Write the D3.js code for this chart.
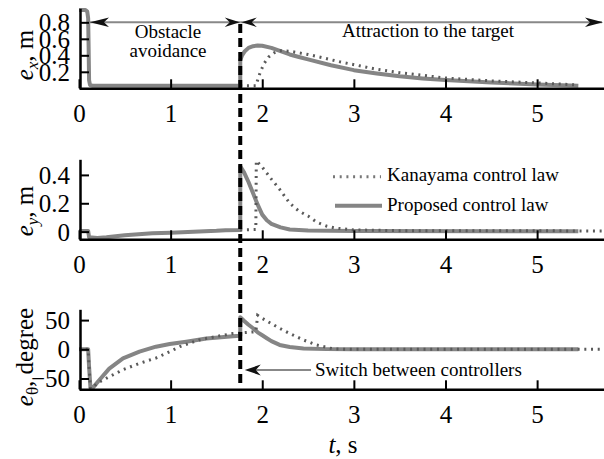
<!DOCTYPE html>
<html>
<head>
<meta charset="utf-8">
<script src="https://cdn.jsdelivr.net/npm/d3@7"></script>
<style>
  html, body { margin: 0; padding: 0; background: #fff; }
  svg, svg text { font-family: "Liberation Serif", "DejaVu Serif", "Times New Roman", Times, serif !important; }
  svg { display: block; }
</style>
</head>
<body>
<svg id="chart" width="604" height="459"></svg>
<script>
// ---- time axis ----
const timeTicks = [0, 1, 2, 3, 4, 5];
const tSwitch = 1.76;   // moment the controller is switched
const tEnd = 5.73;

// ---- e_x, m ----
const exTicks = [0.2, 0.4, 0.6, 0.8];
const exProposed = [
  [0, 0.95], [0.07, 0.95], [0.09, 0.93], [0.1, 0.85], [0.105, 0.5], [0.11, 0.1], [0.12, 0.04],
  [0.15, 0.03], [1.76, 0.03], [1.76, 0.34], [1.78, 0.40], [1.81, 0.45], [1.85, 0.49], [1.9, 0.51],
  [1.95, 0.52], [2.0, 0.515], [2.1, 0.49], [2.2, 0.45], [2.3, 0.41], [2.4, 0.38], [2.5, 0.35],
  [2.75, 0.28], [3.0, 0.22], [3.25, 0.18], [3.5, 0.145], [3.75, 0.12], [4.0, 0.10], [4.5, 0.07],
  [5.0, 0.045], [5.45, 0.03]
];
const exKanayama = [
  [1.76, 0.03], [1.93, 0.03], [1.95, 0.1], [1.98, 0.2], [2.02, 0.3], [2.07, 0.38], [2.13, 0.43],
  [2.2, 0.455], [2.3, 0.45], [2.4, 0.43], [2.5, 0.41], [2.66, 0.37], [2.85, 0.32], [3.03, 0.28],
  [3.25, 0.23], [3.5, 0.19], [4.0, 0.125], [4.5, 0.09], [5.0, 0.065], [5.45, 0.04]
];

// ---- e_y, m ----
const eyTicks = [0, 0.2, 0.4];
const eyProposed = [
  [0, 0.005], [0.1, 0.005], [0.11, -0.04], [0.2, -0.045], [0.3, -0.04], [0.4, -0.032], [0.5, -0.025],
  [0.65, -0.018], [0.8, -0.012], [1.0, -0.008], [1.25, 0.0], [1.5, 0.006], [1.6, 0.01], [1.76, 0.012],
  [1.76, 0.46], [1.8, 0.42], [1.85, 0.35], [1.9, 0.27], [1.95, 0.19], [2.0, 0.12], [2.05, 0.08],
  [2.1, 0.055], [2.2, 0.03], [2.3, 0.015], [2.5, 0.008], [3.0, 0.005], [5.45, 0.003]
];
const eyKanayama = [
  [1.76, 0.012], [1.93, 0.015], [1.935, 0.5], [2.0, 0.455], [2.1, 0.37], [2.2, 0.29], [2.3, 0.2],
  [2.4, 0.145], [2.5, 0.11], [2.6, 0.065], [2.7, 0.04], [2.8, 0.025], [3.0, 0.012], [3.5, 0.007],
  [5.73, 0.005]
];

// ---- e_theta, degree ----
const ethTicks = [-50, 0, 50];
const ethProposed = [
  [0, 0], [0.1, 0], [0.11, -30], [0.125, -66], [0.15, -66], [0.22, -53], [0.33, -33], [0.48, -15.5],
  [0.66, -4], [0.84, 4.5], [0.99, 9], [1.17, 13], [1.39, 18.5], [1.68, 22.5], [1.76, 23],
  [1.76, 55], [1.8, 49], [1.85, 42], [1.9, 36], [1.95, 29], [2.0, 24], [2.05, 19], [2.1, 14],
  [2.19, 7.5], [2.3, 4], [2.45, 1.5], [2.7, 0.3], [3.0, 0], [5.45, 0]
];
const ethKanayama = [
  [0, 0], [0.1, 0], [0.11, -30], [0.125, -67], [0.15, -66], [0.2, -58], [0.33, -47], [0.48, -35],
  [0.66, -24], [0.84, -15], [0.99, -4], [1.1, 4.5], [1.31, 16], [1.5, 22], [1.68, 27], [1.76, 28],
  [1.93, 30], [1.95, 58], [2.0, 53], [2.1, 44], [2.19, 36], [2.3, 27], [2.45, 16], [2.59, 7.5],
  [2.78, 0.5], [3.0, 0], [5.73, 0]
];

// ---- texts ----
const legendLabels = ["Kanayama control law", "Proposed control law"];
const phaseLabels = [["Obstacle", "avoidance"], ["Attraction to the target"]];
const switchLabel = "Switch between controllers";

// ---- styles ----
const serif = "'Liberation Serif', 'DejaVu Serif', 'Times New Roman', Times, serif";
const solidColor = "#858585";
const dotColor = "#5a5a5a";
const tickFont = 25;
const noteFont = 19;

const svg = d3.select("#chart");
svg.append("rect").attr("width", 604).attr("height", 459).attr("fill", "#fff");

const x = d3.scaleLinear().domain([0, tEnd]).range([79, 604]);

const panels = [
  { domain: [0, 0.97], range: [88.3, 8.3], ticks: exTicks, fmt: d3.format(".1f"),
    proposed: exProposed, kanayama: exKanayama, sym: "x", unit: ", m", labelCenter: 55 },
  { domain: [-0.054, 0.51], range: [239.3, 159.3], ticks: eyTicks, fmt: d => d === 0 ? "0" : d3.format(".1f")(d),
    proposed: eyProposed, kanayama: eyKanayama, sym: "y", unit: ", m", labelCenter: 211 },
  { domain: [-68.5, 68.5], range: [389.3, 309.3], ticks: ethTicks, fmt: d3.format("d"),
    proposed: ethProposed, kanayama: ethKanayama, sym: "θ", unit: ", degree", labelCenter: 357 }
];

const line = (y) => d3.line().x(d => x(d[0])).y(d => y(d[1])).curve(d3.curveLinear);

panels.forEach((p) => {
  const y = d3.scaleLinear().domain(p.domain).range(p.range);
  const g = svg.append("g");

  // curves
  g.append("path").datum(p.proposed)
    .attr("d", line(y)).attr("fill", "none")
    .attr("stroke", solidColor).attr("stroke-width", 4)
    .attr("stroke-linejoin", "round");
  g.append("path").datum(p.kanayama)
    .attr("d", line(y)).attr("fill", "none")
    .attr("stroke", dotColor).attr("stroke-width", 3)
    .attr("stroke-dasharray", "2,4.7");

  // x axis
  const xa = g.append("g").attr("transform", `translate(0,${p.range[0]})`)
    .call(d3.axisBottom(x).tickValues(timeTicks).tickFormat(d3.format("d"))
      .tickSizeInner(-9).tickSizeOuter(0));
  xa.attr("font-family", serif);
  xa.select(".domain").attr("stroke", "#000").attr("stroke-width", 2.5);
  xa.selectAll(".tick line").attr("stroke", "#000").attr("stroke-width", 2);
  xa.selectAll(".tick text").attr("y", 34).attr("dy", null)
    .attr("font-size", tickFont).attr("font-family", serif).attr("fill", "#000");

  // y axis
  const ya = g.append("g").attr("transform", "translate(80,0)")
    .call(d3.axisLeft(y).tickValues(p.ticks).tickFormat(p.fmt)
      .tickSizeInner(-9).tickSizeOuter(0).tickPadding(10));
  ya.attr("font-family", serif);
  ya.select(".domain").attr("stroke", "#000").attr("stroke-width", 2.5);
  ya.selectAll(".tick line").attr("stroke", "#000").attr("stroke-width", 2);
  ya.selectAll(".tick text").attr("dy", "0.34em")
    .attr("font-size", tickFont).attr("font-family", serif).attr("fill", "#000");

  // y label: e_sym, unit
  const lab = svg.append("text")
    .attr("transform", `translate(33,${p.labelCenter}) rotate(-90)`)
    .attr("text-anchor", "middle").attr("font-size", tickFont)
    .attr("font-family", serif).attr("fill", "#000");
  lab.append("tspan").attr("font-style", "italic").text("e");
  lab.append("tspan").attr("font-size", 17).attr("dy", 5)
    .attr("font-style", p.sym === "θ" ? "normal" : "italic").text(p.sym);
  lab.append("tspan").attr("dy", -5).text(p.unit);
});

// ---- annotations ----
function stealth(tipX, tipY, dir, len, half, notch) {
  // dir: +1 points right, -1 points left
  const bx = tipX - dir * len;
  const nx = tipX - dir * (len - notch);
  return `M${tipX},${tipY}L${bx},${tipY - half}L${nx},${tipY}L${bx},${tipY + half}Z`;
}

const xs = x(tSwitch);
const arrowY = 22.3;

// phase arrows
svg.append("line").attr("x1", x(0.12)).attr("x2", xs).attr("y1", arrowY).attr("y2", arrowY)
  .attr("stroke", "#888").attr("stroke-width", 2);
svg.append("line").attr("x1", xs).attr("x2", 602).attr("y1", arrowY).attr("y2", arrowY)
  .attr("stroke", "#888").attr("stroke-width", 2);
[
  [x(0.12), -1, 19],
  [xs - 0.5, 1, 15],
  [xs + 1.5, -1, 15],
  [603, 1, 18]
].forEach(([tx, dir, len]) => {
  svg.append("path").attr("d", stealth(tx, arrowY, dir, len, 4.8, 5)).attr("fill", "#111");
});

// switch line
svg.append("line").attr("x1", xs).attr("x2", xs).attr("y1", 24).attr("y2", 386)
  .attr("stroke", "#000").attr("stroke-width", 4).attr("stroke-dasharray", "9,5");

// phase labels
const obst = svg.append("text").attr("x", 168).attr("text-anchor", "middle")
  .attr("font-size", noteFont).attr("font-family", serif).attr("fill", "#000");
obst.append("tspan").attr("x", 168).attr("y", 37.5).text(phaseLabels[0][0]);
obst.append("tspan").attr("x", 168).attr("y", 57).text(phaseLabels[0][1]);
svg.append("text").attr("x", 428).attr("y", 37).attr("text-anchor", "middle")
  .attr("font-size", noteFont).attr("font-family", serif).attr("fill", "#000").text(phaseLabels[1][0]);

// legend
svg.append("line").attr("x1", 333).attr("x2", 381).attr("y1", 176.7).attr("y2", 176.7)
  .attr("stroke", "#777").attr("stroke-width", 3).attr("stroke-dasharray", "2,4.7");
svg.append("line").attr("x1", 335).attr("x2", 382).attr("y1", 205.7).attr("y2", 205.7)
  .attr("stroke", solidColor).attr("stroke-width", 4);
svg.append("text").attr("x", 387).attr("y", 181).attr("font-size", noteFont)
  .attr("font-family", serif).attr("fill", "#000").text(legendLabels[0]);
svg.append("text").attr("x", 387).attr("y", 211).attr("font-size", noteFont)
  .attr("font-family", serif).attr("fill", "#000").text(legendLabels[1]);

// switch annotation
const swY = 370;
svg.append("line").attr("x1", xs + 10).attr("x2", 311).attr("y1", swY).attr("y2", swY)
  .attr("stroke", "#888").attr("stroke-width", 2);
svg.append("path").attr("d", stealth(xs + 4.5, swY, -1, 16, 5.5, 5)).attr("fill", "#111");
svg.append("text").attr("x", 315).attr("y", 375.5).attr("font-size", noteFont)
  .attr("font-family", serif).attr("fill", "#000").text(switchLabel);

// time label
const tl = svg.append("text").attr("x", 343).attr("y", 453).attr("text-anchor", "middle")
  .attr("font-size", tickFont).attr("font-family", serif).attr("fill", "#000");
tl.append("tspan").attr("font-style", "italic").text("t");
tl.append("tspan").text(", s");
</script>
</body>
</html>
